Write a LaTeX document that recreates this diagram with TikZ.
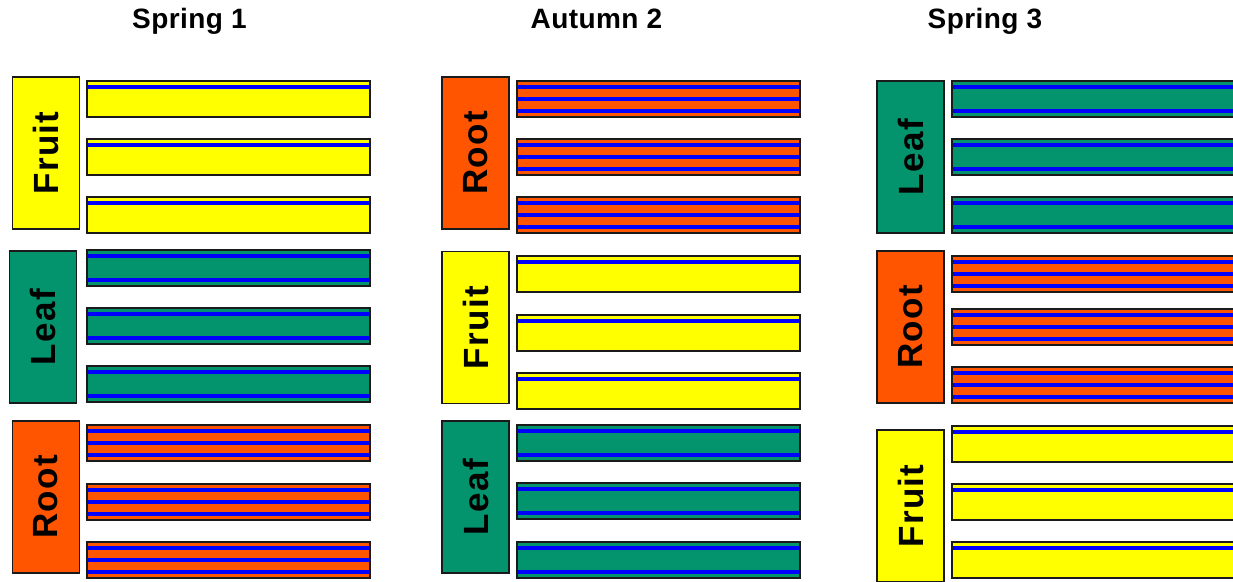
\documentclass[tikz,border=0pt]{standalone}
\usepackage{fontspec}
\setmainfont{Liberation Sans}
\definecolor{fruitc}{HTML}{FFFF00}
\definecolor{leafc}{HTML}{03946E}
\definecolor{rootc}{HTML}{FF5500}
\definecolor{stripec}{HTML}{0000FF}
\definecolor{edgec}{HTML}{1A1A1A}
\begin{document}
\begin{tikzpicture}[x=1pt,y=-1pt,
  bedline/.style={draw=edgec, line width=1.3pt},
  stripe/.style={stripec, line width=3.2pt},
  croplabel/.style={rotate=90, draw=edgec, line width=1.3pt, minimum width=152pt,
    minimum height=67pt, inner sep=0pt,
    font=\fontsize{35}{35}\selectfont\bfseries\addfontfeature{LetterSpace=4}},
  fruitlabel/.style={croplabel, fill=fruitc},
  leaflabel/.style={croplabel, fill=leafc},
  rootlabel/.style={croplabel, fill=rootc},
  season/.style={anchor=base, inner sep=0pt,
    font=\fontsize{28}{28}\selectfont\bfseries\addfontfeature{LetterSpace=1.5}},
  fruitbed/.pic={\fill[fruitc] (0,0) rectangle (283,36);
    \draw[stripe] (0,6) -- (283,6);
    \draw[bedline] (0,0) rectangle (283,36);},
  leafbed/.pic={\fill[leafc] (0,0) rectangle (283,36);
    \draw[stripe] (0,6) -- (283,6);
    \draw[stripe] (0,30) -- (283,30);
    \draw[bedline] (0,0) rectangle (283,36);},
  rootbed/.pic={\fill[rootc] (0,0) rectangle (283,36);
    \draw[stripe] (0,6) -- (283,6);
    \draw[stripe] (0,18) -- (283,18);
    \draw[stripe] (0,30) -- (283,30);
    \draw[bedline] (0,0) rectangle (283,36);}
]
\useasboundingbox (0,0) rectangle (1233,581);
\clip (0,0) rectangle (1233,581);

% titles
\node[season] (t1) at (189.5,28) {Spring 1};
\node[season] (t2) at (596.5,28) {Autumn 2};
\node[season] (t3) at (985,28) {Spring 3};

% crop labels
\node[fruitlabel] (s1f) at (46,153) {Fruit};
\node[leaflabel]  (s1l) at (43,327) {Leaf};
\node[rootlabel]  (s1r) at (46,497) {Root};

\node[rootlabel]  (a2r) at (475.5,153) {Root};
\node[fruitlabel] (a2f) at (475.5,327.5) {Fruit};
\node[leaflabel]  (a2l) at (475.5,497) {Leaf};

\node[leaflabel]  (s3l) at (910.5,157) {Leaf};
\node[rootlabel]  (s3r) at (910.5,327) {Root};
\node[fruitlabel] (s3f) at (910.5,506) {Fruit};

% beds
\foreach \bx/\by/\bt [count=\i] in {
  87/81/fruit, 87/139/fruit, 87/197/fruit,
  87/250/leaf, 87/308/leaf, 87/366/leaf,
  87/425/root, 87/484/root, 87/542/root,
  517/81/root, 517/139/root, 517/197/root,
  517/256/fruit, 517/315/fruit, 517/373/fruit,
  517/425/leaf, 517/483/leaf, 517/542/leaf,
  952/81/leaf, 952/139/leaf, 952/197/leaf,
  952/256/root, 952/309/root, 952/367/root,
  952/426/fruit, 952/484/fruit, 952/542/fruit}
  \pic (bed\i) at (\bx,\by) {\bt bed};
\end{tikzpicture}
\end{document}
